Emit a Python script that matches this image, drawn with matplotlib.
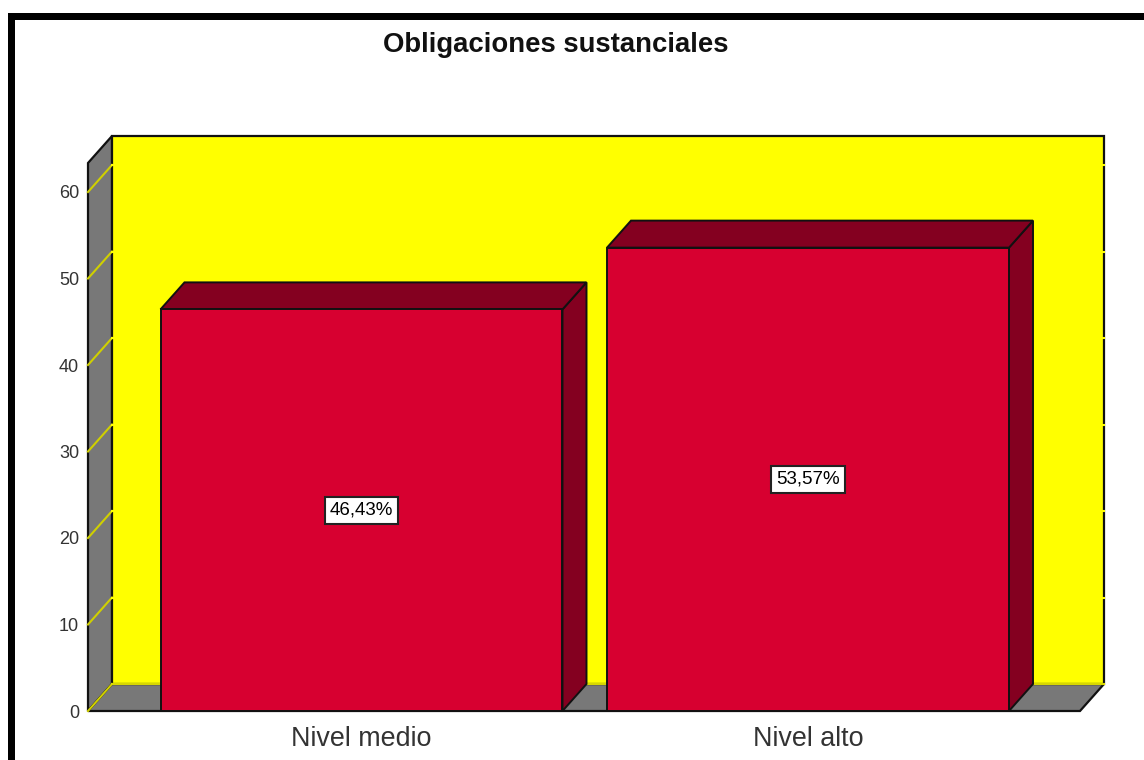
#!/usr/bin/env python
import matplotlib as mpl
mpl.use('Agg')
import matplotlib.pyplot as plt  # noqa
from matplotlib.patches import Polygon, Rectangle  # noqa

plt.rcParams['font.family'] = ['Liberation Sans', 'DejaVu Sans']

title = 'Obligaciones sustanciales'
categories = ['Nivel medio', 'Nivel alto']
values = [46.43, 53.57]
value_labels = ['46,43%', '53,57%']
yticks = [0, 10, 20, 30, 40, 50, 60]

W, H = 1144, 760
YELLOW = '#ffff00'
GRID = '#d0d000'
GRAY = '#787878'
RED = '#d70030'
DARK = '#840020'
EDGE = '#111111'

fig = plt.figure(figsize=(W / 100, H / 100), dpi=100, facecolor='white')
# front plane of the box, in pixels of the reference
left, right, bottom, top = 88, 1080, 711, 163
ax = fig.add_axes([left / W, 1 - bottom / H, (right - left) / W, (bottom - top) / H])
ax.patch.set_visible(False)
for s in ax.spines.values():
    s.set_visible(False)

px_y = 519 / 60  # pixels per unit on y
px_x = 446.5  # pixels between the bars
ymax = (bottom - top) / px_y
xmin = -273.5 / px_x
xmax = xmin + (right - left) / px_x
ax.set_xlim(xmin, xmax)
ax.set_ylim(0, ymax)
dx = 24 / px_x  # depth of the box
dy = 27 / px_y
width = 402 / px_x


def poly(pts, color, z, lw=1.6):
    ax.add_patch(Polygon(pts, closed=True, facecolor=color, edgecolor=EDGE,
                         linewidth=lw, joinstyle='miter', clip_on=False, zorder=z))


# walls and floor
poly([(xmin, 0), (xmin + dx, dy), (xmin + dx, ymax + dy), (xmin, ymax)], GRAY, 1)
poly([(xmin, 0), (xmax, 0), (xmax + dx, dy), (xmin + dx, dy)], GRAY, 1)
poly([(xmin + dx, dy), (xmax + dx, dy), (xmax + dx, ymax + dy), (xmin + dx, ymax + dy)], YELLOW, 1)

# gridlines: only the slanted part on the side wall shows, the back wall part is yellow on yellow
for t in yticks:
    ax.plot([xmin, xmin + dx], [t, t + dy], color=GRID, lw=1.5, clip_on=False, zorder=2)
    ax.plot([xmin + dx, xmax + dx], [t + dy, t + dy], color=YELLOW, lw=1.5,
            clip_on=False, zorder=2)
ax.plot([xmin + dx, xmax + dx], [dy, dy], color=GRID, lw=1.2, clip_on=False, zorder=2)

# bars
for i, v in enumerate(values):
    ax.bar(i, v, width=width, color=RED, edgecolor=EDGE, linewidth=1.4, zorder=4)
    x0, x1 = i - width / 2, i + width / 2
    poly([(x1, 0), (x1 + dx, dy), (x1 + dx, v + dy), (x1, v)], DARK, 3, lw=1.4)
    poly([(x0, v), (x1, v), (x1 + dx, v + dy), (x0 + dx, v + dy)], DARK, 3, lw=1.4)
    ax.text(i, v / 2, value_labels[i], ha='center', va='center', fontsize=13.5,
            color='black', zorder=6,
            bbox=dict(boxstyle='square,pad=0.26', facecolor='white', edgecolor='#222222', linewidth=1.5))

ax.set_xticks(range(len(categories)))
ax.set_xticklabels(categories, fontsize=19.4, color='#333333')
ax.set_yticks(yticks)
ax.set_yticklabels([str(t) for t in yticks], fontsize=13, color='#333333')
ax.tick_params(axis='both', length=0)
ax.tick_params(axis='x', pad=11)
ax.tick_params(axis='y', pad=6.5)

fig.text(555.5 / W, 1 - 45 / H, title, ha='center', va='center', fontsize=19.8,
         fontweight='bold', color='#111111')

# black frame on the left and top of the screenshot
fig.add_artist(Rectangle((8 / W, 0), 7 / W, 1 - 13 / H, transform=fig.transFigure,
                         facecolor='black', edgecolor='none'))
fig.add_artist(Rectangle((8 / W, 1 - 20 / H), 1 - 8 / W, 7 / H, transform=fig.transFigure,
                         facecolor='black', edgecolor='none'))

fig.savefig('out.png', dpi=100)
